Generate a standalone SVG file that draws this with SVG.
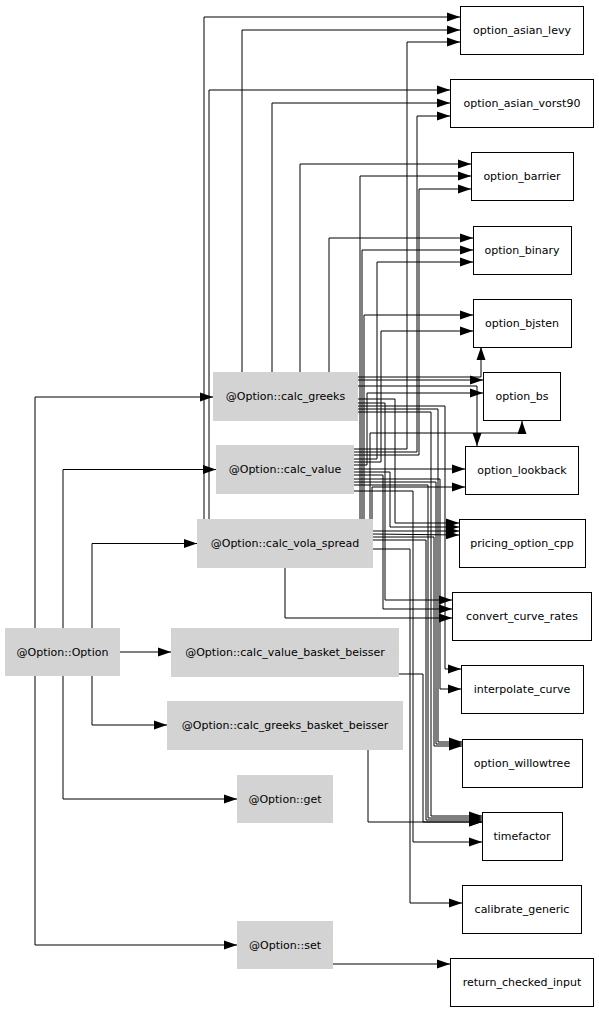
<svg xmlns="http://www.w3.org/2000/svg" width="599" height="1013" viewBox="0 0 599 1013">
<style>
.g rect{fill:#d3d3d3;stroke:none}
.w rect{fill:#fff;stroke:#000;stroke-width:1}
text{font-family:"DejaVu Sans","Liberation Sans",sans-serif;font-size:11px;fill:#000;text-anchor:middle;dominant-baseline:central}
#edges polyline{fill:none;stroke:#000;stroke-width:1;marker-end:url(#ah)}
</style>
<defs>
<marker id="ah" markerUnits="userSpaceOnUse" markerWidth="13" markerHeight="10" refX="13" refY="5" orient="auto">
<path d="M0,0.5 L13,5 L0,9.5 z" fill="#000"/>
</marker>
</defs>
<rect width="599" height="1013" fill="#fff"/>
<g id="edges">
<polyline points="35,628 35,397 213,397"/>
<polyline points="63,628 63,469.5 216,469.5"/>
<polyline points="92,628 92,543.5 197,543.5"/>
<polyline points="120,652 171,652"/>
<polyline points="92,676 92,725 167,725"/>
<polyline points="63,676 63,799 237,799"/>
<polyline points="35,676 35,945 237,945"/>
<polyline points="242,372 242,30 460,30"/>
<polyline points="204,519 204,17 460,17"/>
<polyline points="354,449 407,449 407,42 460,42"/>
<polyline points="209,519 209,90 450,90"/>
<polyline points="272,372 272,103 450,103"/>
<polyline points="354,452 417,452 417,116 450,116"/>
<polyline points="300,372 300,164 471,164"/>
<polyline points="360,519 360,176 471,176"/>
<polyline points="354,455 419,455 419,189 471,189"/>
<polyline points="329,372 329,238 473,238"/>
<polyline points="362,519 362,250 473,250"/>
<polyline points="354,459 377,459 377,262 473,262"/>
<polyline points="364,519 364,315 473,315"/>
<polyline points="354,462 381,462 381,331 473,331"/>
<polyline points="358,377 481,377 481,347"/>
<polyline points="358,380 483,380"/>
<polyline points="354,465 367,465 367,393 483,393"/>
<polyline points="370,519 370,433 522,433 522,421"/>
<polyline points="358,386 477,386 477,446"/>
<polyline points="354,469 465,469"/>
<polyline points="372,519 372,487 465,487"/>
<polyline points="358,399 395,399 395,523 459,523"/>
<polyline points="354,472 390,472 390,527 459,527"/>
<polyline points="373,531 459,531"/>
<polyline points="373,534 459,535"/>
<polyline points="358,403 385,403 385,600 452,600"/>
<polyline points="354,475 383,475 383,609 452,609"/>
<polyline points="285,568 285,618 452,618"/>
<polyline points="358,406 445,406 445,669 461,669"/>
<polyline points="354,479 440,479 440,689 461,689"/>
<polyline points="358,409 438,409 438,742 462,742"/>
<polyline points="354,482 436,482 436,744 462,744"/>
<polyline points="373,537 434,537 434,746 462,746"/>
<polyline points="358,412 431,412 431,816 482,816"/>
<polyline points="354,485 428,485 428,818 482,818"/>
<polyline points="373,540 426,540 426,820 482,820"/>
<polyline points="399,674 423,674 423,822 482,822"/>
<polyline points="368,750 368,822 482,822"/>
<polyline points="354,491 413,491 413,842 482,842"/>
<polyline points="373,549 410,549 410,903 462,903"/>
<polyline points="333,964 450,964"/>
</g>
<g id="n_option" class="g"><rect x="5" y="628" width="115" height="48"/><text x="62.5" y="652">@Option::Option</text></g>
<g id="n_calc_greeks" class="g"><rect x="213" y="372" width="145" height="49"/><text x="285.5" y="396.5">@Option::calc_greeks</text></g>
<g id="n_calc_value" class="g"><rect x="216" y="445" width="138" height="49"/><text x="285" y="469.5">@Option::calc_value</text></g>
<g id="n_calc_vola_spread" class="g"><rect x="197" y="519" width="176" height="49"/><text x="285" y="543.5">@Option::calc_vola_spread</text></g>
<g id="n_calc_value_basket_beisser" class="g"><rect x="171" y="628" width="228" height="49"/><text x="285" y="652">@Option::calc_value_basket_beisser</text></g>
<g id="n_calc_greeks_basket_beisser" class="g"><rect x="167" y="701" width="236" height="49"/><text x="285" y="725">@Option::calc_greeks_basket_beisser</text></g>
<g id="n_get" class="g"><rect x="237" y="775" width="96" height="48"/><text x="285" y="799">@Option::get</text></g>
<g id="n_set" class="g"><rect x="237" y="921" width="96" height="48"/><text x="285" y="945">@Option::set</text></g>
<g id="n_option_asian_levy" class="w"><rect x="460.5" y="6.5" width="123" height="48"/><text x="522" y="30">option_asian_levy</text></g>
<g id="n_option_asian_vorst90" class="w"><rect x="450.5" y="79.5" width="143" height="48"/><text x="522" y="103">option_asian_vorst90</text></g>
<g id="n_option_barrier" class="w"><rect x="471.5" y="152.5" width="102" height="48"/><text x="522" y="176">option_barrier</text></g>
<g id="n_option_binary" class="w"><rect x="473.5" y="226.5" width="98" height="48"/><text x="522" y="250">option_binary</text></g>
<g id="n_option_bjsten" class="w"><rect x="473.5" y="299.5" width="98" height="48"/><text x="522" y="323">option_bjsten</text></g>
<g id="n_option_bs" class="w"><rect x="483.5" y="372.5" width="77" height="48"/><text x="522" y="396">option_bs</text></g>
<g id="n_option_lookback" class="w"><rect x="465.5" y="446.5" width="113" height="48"/><text x="522" y="470">option_lookback</text></g>
<g id="n_pricing_option_cpp" class="w"><rect x="459.5" y="519.5" width="126" height="48"/><text x="522" y="543">pricing_option_cpp</text></g>
<g id="n_convert_curve_rates" class="w"><rect x="452.5" y="592.5" width="139" height="48"/><text x="522" y="616">convert_curve_rates</text></g>
<g id="n_interpolate_curve" class="w"><rect x="461.5" y="665.5" width="122" height="48"/><text x="522" y="689">interpolate_curve</text></g>
<g id="n_option_willowtree" class="w"><rect x="462.5" y="739.5" width="120" height="48"/><text x="522" y="763">option_willowtree</text></g>
<g id="n_timefactor" class="w"><rect x="482.5" y="812.5" width="80" height="48"/><text x="522" y="836">timefactor</text></g>
<g id="n_calibrate_generic" class="w"><rect x="462.5" y="885.5" width="119" height="48"/><text x="522" y="909">calibrate_generic</text></g>
<g id="n_return_checked_input" class="w"><rect x="450.5" y="958.5" width="143" height="48"/><text x="522" y="982">return_checked_input</text></g>
</svg>
